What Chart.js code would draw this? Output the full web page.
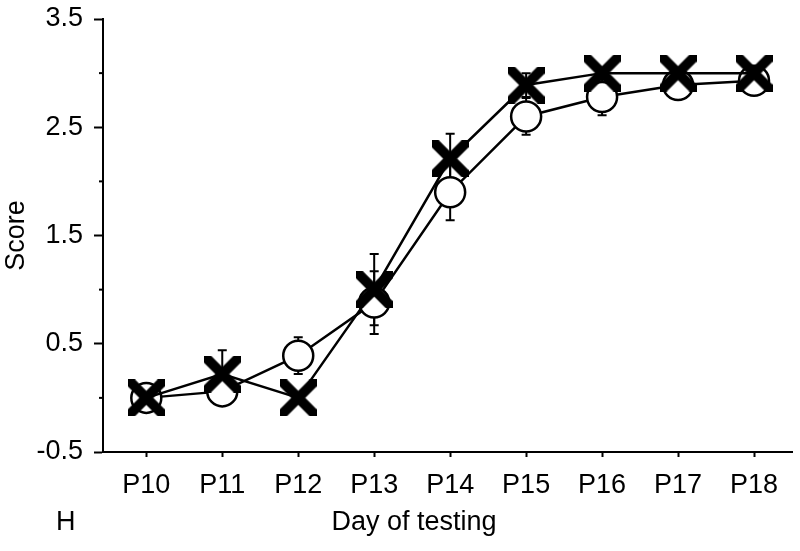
<!DOCTYPE html>
<html>
<head>
<meta charset="utf-8">
<script src="https://cdn.jsdelivr.net/npm/chart.js@4"></script>
<style>
  html, body { margin: 0; padding: 0; background: #fff; }
  #wrap { width: 800px; height: 551px; }
</style>
</head>
<body>
<div id="wrap"><canvas id="chart"></canvas></div>
<script>
// --- data ---
const days = [10, 11, 12, 13, 14, 15, 16, 17, 18];
const circleScores = [0, 0.06, 0.39, 0.88, 1.9, 2.6, 2.78, 2.89, 2.93];
const circleErr = [0, 0.05, 0.17, 0.29, 0.26, 0.17, 0.17, 0.08, 0.06];
const crossScores = [0, 0.22, 0, 1.0, 2.21, 2.89, 3.0, 3.0, 3.0];
const crossErr = [0, 0.22, 0, 0.33, 0.23, 0.11, 0, 0, 0];
const yMajorTicks = [-0.5, 0.5, 1.5, 2.5, 3.5];
const yMinorTicks = [0, 1, 2, 3];

const FONT = "'Liberation Sans', Arial, sans-serif";

const toPoints = vals => days.map((d, i) => ({ x: d, y: vals[i] }));

// thick X marker with square-cut ends (clipped to its box)
function makeCross(size, thick) {
  const c = document.createElement('canvas');
  c.width = size;
  c.height = size;
  const g = c.getContext('2d');
  g.strokeStyle = '#000';
  g.lineWidth = thick;
  g.beginPath();
  g.moveTo(-thick, -thick);
  g.lineTo(size + thick, size + thick);
  g.moveTo(size + thick, -thick);
  g.lineTo(-thick, size + thick);
  g.stroke();
  return c;
}
const crossMarker = makeCross(37, 10);

// keep the chart area where the layout padding puts it
const noLabelPadding = s => {
  s.paddingTop = 0; s.paddingBottom = 0;
  s.paddingLeft = 0; s.paddingRight = 0;
};

// error bars, drawn under the markers
const errorBars = {
  id: 'errorBars',
  beforeDatasetsDraw(chart) {
    const ctx = chart.ctx;
    const ys = chart.scales.y;
    ctx.save();
    ctx.strokeStyle = '#000';
    ctx.lineWidth = 2;
    chart.data.datasets.forEach((ds, di) => {
      const meta = chart.getDatasetMeta(di);
      meta.data.forEach((pt, i) => {
        const e = ds.errors[i];
        if (!e) return;
        const v = ds.data[i].y;
        const top = ys.getPixelForValue(v + e);
        const bot = ys.getPixelForValue(v - e);
        ctx.beginPath();
        ctx.moveTo(pt.x, top);
        ctx.lineTo(pt.x, bot);
        ctx.moveTo(pt.x - 4.5, top);
        ctx.lineTo(pt.x + 4.5, top);
        ctx.moveTo(pt.x - 4.5, bot);
        ctx.lineTo(pt.x + 4.5, bot);
        ctx.stroke();
      });
    });
    ctx.restore();
  }
};

// short unlabelled ticks + the panel letter and x title
const extras = {
  id: 'extras',
  afterDraw(chart) {
    const ctx = chart.ctx;
    const ys = chart.scales.y;
    const left = chart.chartArea.left;
    ctx.save();
    ctx.strokeStyle = '#000';
    ctx.lineWidth = 2;
    yMinorTicks.forEach(v => {
      const y = ys.getPixelForValue(v);
      ctx.beginPath();
      ctx.moveTo(left - 4, y);
      ctx.lineTo(left, y);
      ctx.stroke();
    });
    ctx.fillStyle = '#000';
    ctx.font = '27px ' + FONT;
    ctx.textBaseline = 'middle';
    ctx.textAlign = 'left';
    ctx.fillText('H', 56, 523);
    ctx.textAlign = 'center';
    ctx.fillText('Day of testing', 414, 523);
    ctx.restore();
  }
};

new Chart(document.getElementById('chart'), {
  type: 'line',
  data: {
    datasets: [
      {
        label: 'X',
        data: toPoints(crossScores),
        errors: crossErr,
        borderColor: '#000',
        borderWidth: 2.5,
        pointStyle: crossMarker,
        pointRadius: 18,
        tension: 0,
        clip: false
      },
      {
        label: 'O',
        data: toPoints(circleScores),
        errors: circleErr,
        borderColor: '#000',
        borderWidth: 2.5,
        pointStyle: 'circle',
        pointRadius: 15,
        pointBorderWidth: 2.5,
        pointBorderColor: '#000',
        pointBackgroundColor: '#fff',
        tension: 0,
        clip: false
      }
    ]
  },
  options: {
    responsive: true,
    maintainAspectRatio: false,
    animation: false,
    events: [],
    layout: { autoPadding: false, padding: { left: 0, right: 8, top: 19, bottom: 0 } },
    plugins: {
      legend: { display: false },
      tooltip: { enabled: false }
    },
    scales: {
      x: {
        type: 'linear',
        min: 9.43,
        max: 18.5,
        afterBuildTicks: s => { s.ticks = days.map(d => ({ value: d })); },
        afterFit: s => { s.height = 99; noLabelPadding(s); },
        border: { display: true, color: '#000', width: 2 },
        grid: { drawOnChartArea: false, drawTicks: true, tickLength: 5, tickWidth: 2, tickColor: '#000' },
        ticks: {
          color: '#000',
          padding: 12,
          maxRotation: 0,
          font: { family: FONT, size: 27 },
          callback: v => 'P' + v
        }
      },
      y: {
        min: -0.5,
        max: 3.5,
        afterBuildTicks: s => { s.ticks = yMajorTicks.map(v => ({ value: v })); },
        afterFit: s => { s.width = 103; noLabelPadding(s); },
        border: { display: true, color: '#000', width: 2 },
        grid: { drawOnChartArea: false, drawTicks: true, tickLength: 9, tickWidth: 2, tickColor: '#000' },
        ticks: {
          color: '#000',
          padding: 11,
          font: { family: FONT, size: 27 },
          callback: v => v.toFixed(1)
        },
        title: {
          display: true,
          text: 'Score',
          color: '#000',
          padding: { top: 0, bottom: 0 },
          font: { family: FONT, size: 27 }
        }
      }
    }
  },
  plugins: [errorBars, extras]
});
</script>
</body>
</html>
